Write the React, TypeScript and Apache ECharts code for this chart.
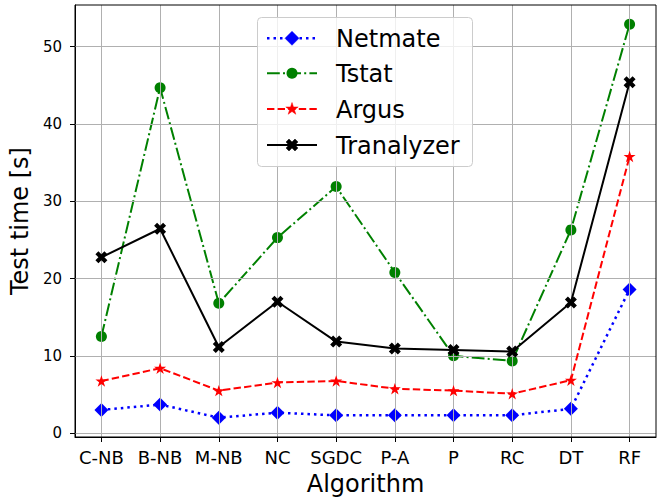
import React, { useEffect, useRef } from "react";
import * as echarts from "echarts";

const categories = ["C-NB", "B-NB", "M-NB", "NC", "SGDC", "P-A", "P", "RC", "DT", "RF"];
const netmate = [3.0, 3.7, 2.0, 2.65, 2.3, 2.3, 2.3, 2.3, 3.15, 18.6];
const tstat = [12.5, 44.7, 16.8, 25.3, 31.9, 20.8, 10.0, 9.35, 26.3, 52.9];
const argus = [6.75, 8.4, 5.5, 6.55, 6.75, 5.75, 5.5, 5.1, 6.85, 35.8];
const tranalyzer = [22.75, 26.45, 11.15, 17.0, 11.85, 10.95, 10.75, 10.55, 16.9, 45.4];
const yTicks = [0, 10, 20, 30, 40, 50];
const seriesNames = ["Netmate", "Tstat", "Argus", "Tranalyzer"];

const FONT = "DejaVu Sans";

function starPts(): number[][] {
  const pts: number[][] = [];
  for (let i = 0; i < 10; i++) {
    const a = ((-90 + i * 36) * Math.PI) / 180;
    const r = i % 2 === 0 ? 1 : 0.382;
    pts.push([r * Math.cos(a), r * Math.sin(a)]);
  }
  return pts;
}
function xPts(): number[][] {
  const plus = [
    [-1, -3], [1, -3], [1, -1], [3, -1], [3, 1], [1, 1],
    [1, 3], [-1, 3], [-1, 1], [-3, 1], [-3, -1], [-1, -1],
  ];
  const c = Math.cos(Math.PI / 4);
  const s = Math.sin(Math.PI / 4);
  return plus.map(([x, y]) => [(x * c - y * s) / 2.83, (x * s + y * c) / 2.83]);
}
function diamondPts(): number[][] {
  return [[0, -1], [1, 0], [0, 1], [-1, 0]];
}
function toPath(pts: number[][]): string {
  return (
    "path://" +
    pts.map((p, i) => `${i === 0 ? "M" : "L"}${(p[0] * 10 + 10).toFixed(3)} ${(p[1] * 10 + 10).toFixed(3)}`).join(" ") +
    " Z"
  );
}

export default function App() {
  const ref = useRef<HTMLDivElement>(null);
  useEffect(() => {
    if (!ref.current) return;
    const chart = echarts.init(ref.current, undefined, { renderer: "svg" });
    const xData = (arr: number[]) => arr.map((v, i) => [i, v]);
    const idx = categories.map((_, i) => i);

    const styles = [
      { color: "#0000ff", width: 2.5, type: [2.5, 4] as any, symbol: "diamond", size: 14, shape: diamondPts(), ms: 7 },
      { color: "#008000", width: 2, type: [12.8, 3.2, 2, 3.2] as any, symbol: "circle", size: 11, shape: null, ms: 5.5 },
      { color: "#ff0000", width: 2, type: [7.4, 3.2] as any, symbol: toPath(starPts()), size: 12, shape: starPts(), ms: 6.5 },
      { color: "#000000", width: 2, type: "solid" as any, symbol: toPath(xPts()), size: 12, shape: xPts(), ms: 6 },
    ];
    const datas = [netmate, tstat, argus, tranalyzer];

    const legendYs = [38.3, 73.3, 109, 145];
    const legendEls: any[] = [
      {
        type: "rect",
        shape: { x: 257.5, y: 17.5, width: 215, height: 149, r: 4 },
        style: { fill: "rgba(255,255,255,0.8)", stroke: "#cccccc", lineWidth: 1 },
        z: 100,
      },
    ];
    styles.forEach((st, i) => {
      const y = legendYs[i];
      legendEls.push({
        type: "line",
        shape: { x1: 267, y1: y, x2: 317, y2: y },
        style: { stroke: st.color, lineWidth: st.width, lineDash: st.type === "solid" ? null : st.type },
        z: 101,
      });
      if (st.shape) {
        legendEls.push({
          type: "polygon",
          shape: { points: st.shape.map((p) => [292 + p[0] * st.ms, y + p[1] * st.ms]) },
          style: { fill: st.color, stroke: st.color, lineWidth: 0.5 },
          z: 102,
        });
      } else {
        legendEls.push({
          type: "circle",
          shape: { cx: 292, cy: y, r: st.ms },
          style: { fill: st.color },
          z: 102,
        });
      }
      legendEls.push({
        type: "text",
        x: 336,
        y: y + 1,
        style: {
          text: seriesNames[i],
          font: `24px "${FONT}"`,
          fill: "#000",
          verticalAlign: "middle",
          align: "left",
        },
        z: 102,
      });
    });

    const gridSeries = {
      type: "line",
      name: "grid",
      data: [],
      silent: true,
      z: 1,
      markLine: {
        silent: true,
        symbol: "none",
        label: { show: false },
        animation: false,
        lineStyle: { color: "#b0b0b0", width: 1, type: "solid" },
        emphasis: { disabled: true },
        data: [...idx.map((v) => ({ xAxis: v })), ...yTicks.map((v) => ({ yAxis: v }))],
      },
    };

    chart.setOption({
      animation: false,
      backgroundColor: "#ffffff",
      grid: {
        left: 75,
        right: 5,
        top: 5,
        bottom: 60,
        containLabel: false,
        outerBoundsMode: "none",
        show: true,
        borderColor: "#000",
        borderWidth: 1,
        backgroundColor: "transparent",
        z: 10,
      },
      xAxis: {
        type: "value",
        min: -0.45,
        max: 9.45,
        name: "Algorithm",
        nameLocation: "middle",
        nameGap: 35,
        nameTextStyle: { fontSize: 24, fontFamily: FONT, color: "#000" },
        axisLine: { show: true, onZero: false, lineStyle: { color: "#000", width: 1 } },
        axisTick: { show: true, inside: false, length: 5, customValues: idx, lineStyle: { color: "#000" } },
        axisLabel: {
          customValues: idx,
          formatter: (v: number) => categories[Math.round(v)] ?? "",
          fontSize: 18,
          fontFamily: FONT,
          color: "#000",
          margin: 11,
        },
        splitLine: { show: false },
      },
      yAxis: {
        type: "value",
        min: -0.5,
        max: 55.4,
        name: "Test time [s]",
        nameLocation: "middle",
        nameGap: 40,
        nameTextStyle: { fontSize: 24, fontFamily: FONT, color: "#000" },
        axisLine: { show: true, onZero: false, lineStyle: { color: "#000", width: 1 } },
        axisTick: { show: true, inside: false, length: 5, customValues: yTicks, lineStyle: { color: "#000" } },
        axisLabel: {
          customValues: yTicks,
          fontSize: 15,
          fontFamily: FONT,
          color: "#000",
          margin: 13,
        },
        splitLine: { show: false },
      },
      series: [
        gridSeries,
        ...styles.map((st, i) => ({
          type: "line",
          name: seriesNames[i],
          data: xData(datas[i]),
          symbol: st.symbol,
          symbolSize: st.size,
          symbolKeepAspect: true,
          showSymbol: true,
          lineStyle: { color: st.color, width: st.width, type: st.type },
          itemStyle: { color: st.color, borderColor: st.color, borderWidth: 0 },
          emphasis: { disabled: true },
          z: 3 + i,
        })),
      ],
      graphic: legendEls,
    });
    return () => chart.dispose();
  }, []);
  return <div ref={ref} style={{ position: "fixed", left: 0, top: 0, width: 661, height: 497 }} />;
}
